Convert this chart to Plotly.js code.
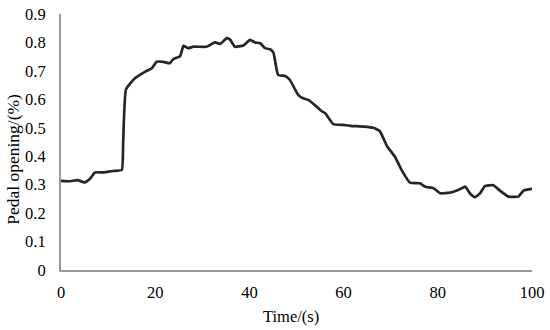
<!DOCTYPE html>
<html>
<head>
<meta charset="utf-8">
<script src="https://cdn.plot.ly/plotly-3.0.1.min.js"></script>
<style>
  html, body { margin: 0; padding: 0; background: #fff; }
  #chart { width: 550px; height: 330px; }
</style>
</head>
<body>
<div id="chart"></div>
<script>
// pedal opening over time
var time = [0, 2, 3.5, 5, 6.2, 7.2, 9, 11, 12.9, 13.2, 13.8, 15.7, 18.2, 19.3, 20.3, 21.7, 23.1, 23.8, 25.3,
  26, 27, 28.1, 30.9, 32.7, 33.8, 35.2, 35.9, 36.9, 38.7, 40.1, 41.2, 42.3, 43.3, 44.4, 45.1,
  46.1, 47.6, 48.6, 50.4, 51.4, 52.5, 54.3, 55.3, 56.1, 57.8, 59.9, 61.4, 64.2, 66.3, 67.7,
  69.2, 70.9, 72.3, 74.1, 76.2, 77.3, 79.1, 80.5, 82.6, 84.7, 85.8, 86.8, 87.9, 89, 90,
  91.8, 93.2, 95, 97.1, 98.2, 100];
var pedal = [0.313, 0.312, 0.316, 0.308, 0.322, 0.343, 0.343, 0.348, 0.352, 0.45, 0.635, 0.674, 0.70, 0.709, 0.732, 0.732, 0.727, 0.741, 0.752,
  0.788, 0.78, 0.785, 0.785, 0.80, 0.795, 0.815, 0.81, 0.785, 0.789, 0.809, 0.80, 0.797, 0.78, 0.776, 0.764,
  0.686, 0.682, 0.668, 0.615, 0.604, 0.598, 0.574, 0.559, 0.551, 0.513, 0.51, 0.507, 0.504, 0.50, 0.488,
  0.436, 0.398, 0.352, 0.307, 0.305, 0.293, 0.287, 0.27, 0.272, 0.284, 0.293, 0.27, 0.256, 0.27, 0.295,
  0.298, 0.279, 0.258, 0.258, 0.279, 0.285];

var xTicks = [0, 20, 40, 60, 80, 100];
var yTicks = [0, 0.1, 0.2, 0.3, 0.4, 0.5, 0.6, 0.7, 0.8, 0.9];

var SERIF = "Liberation Serif, Times New Roman, serif";
var TICK_FONT = { family: SERIF, size: 16.5, color: "#000" };

var data = [{
  x: time,
  y: pedal,
  type: "scatter",
  mode: "lines",
  line: { color: "#262626", width: 2.7, shape: "spline", smoothing: 0.4 },
  hoverinfo: "none"
}];

var layout = {
  width: 550,
  height: 330,
  margin: { l: 61, r: 18, t: 14, b: 60 },
  paper_bgcolor: "#fff",
  plot_bgcolor: "#fff",
  showlegend: false,
  font: TICK_FONT,
  xaxis: {
    range: [0, 100],
    tickvals: xTicks,
    ticktext: xTicks.map(String),
    showgrid: false,
    zeroline: false,
    showline: true,
    linecolor: "#9a9a9a",
    linewidth: 2,
    ticks: "",
    ticklabelstandoff: 6,
    tickfont: TICK_FONT
  },
  yaxis: {
    range: [0, 0.9],
    tickvals: yTicks,
    ticktext: yTicks.map(String),
    showgrid: false,
    zeroline: false,
    showline: true,
    linecolor: "#9a9a9a",
    linewidth: 2,
    ticks: "",
    ticklabelstandoff: 10,
    tickfont: TICK_FONT
  },
  // axis titles placed as annotations to match the off-centre positions in the figure
  annotations: [
    {
      text: "Time/(s)", xref: "paper", yref: "paper", x: 0.488, y: -0.18,
      xanchor: "center", yanchor: "middle", showarrow: false,
      font: { family: SERIF, size: 16.5, color: "#000" }
    },
    {
      text: "Pedal opening/(%)", xref: "paper", yref: "paper", x: -0.102, y: 0.434,
      xanchor: "center", yanchor: "middle", textangle: -90, showarrow: false,
      font: { family: SERIF, size: 17.5, color: "#000" }
    }
  ]
};

Plotly.newPlot(document.getElementById("chart"), data, layout, { displayModeBar: false, staticPlot: true });
</script>
</body>
</html>
